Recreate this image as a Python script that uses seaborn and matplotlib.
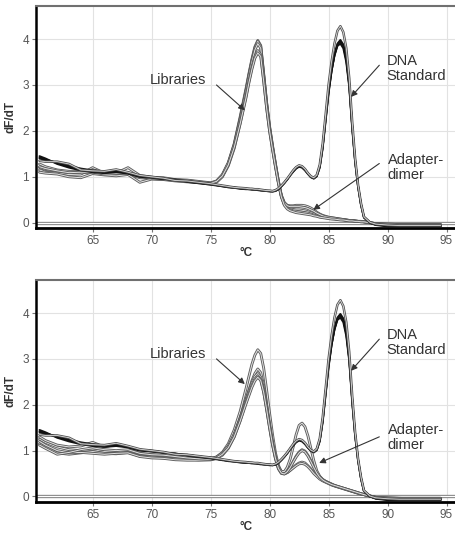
import numpy as np
import pandas as pd
import seaborn as sns
import matplotlib
matplotlib.use('Agg')
import matplotlib.pyplot as plt
import matplotlib.patheffects as pe

# temperature grid (degC), coarse on the baseline, finer across the peaks
temps = [60.5, 61, 62, 63, 64, 65, 66, 67, 68, 69, 70, 71, 72, 73, 74, 75, 75.5, 76, 76.5, 77, 77.5,
         78, 78.25, 78.5, 78.75, 79, 79.25, 79.5, 79.75, 80, 80.25, 80.5, 80.75, 81, 81.25, 81.5, 81.75,
         82, 82.25, 82.5, 82.75, 83, 83.25, 83.5, 83.75, 84, 84.25, 84.5, 84.75, 85, 85.25, 85.5, 85.75,
         86, 86.25, 86.5, 86.75, 87, 87.25, 87.5, 87.75, 88,
         88.5, 89, 90, 91, 92, 93, 94, 94.5]

# DNA standard curves (same standard in both runs)
std_a = [1.42, 1.38, 1.30, 1.22, 1.16, 1.12, 1.10, 1.13, 1.08, 1.02, 0.99, 0.96, 0.93, 0.90, 0.87, 0.84, 0.82, 0.80, 0.78, 0.77, 0.75,
         0.74, 0.74, 0.73, 0.73, 0.72, 0.71, 0.70, 0.70, 0.69, 0.69, 0.70, 0.74, 0.80, 0.87, 0.95, 1.04, 1.12, 1.19, 1.23, 1.21, 1.15,
         1.07, 1.00, 0.97, 1.02, 1.22, 1.65, 2.25, 2.85, 3.30, 3.65, 3.87, 3.95, 3.85, 3.55, 3.00, 2.10, 1.35, 0.80, 0.40, 0.12,
         0.01, -0.04, -0.06, -0.07, -0.07, -0.07, -0.07, -0.07]
std_b = [1.35, 1.33, 1.33, 1.28, 1.15, 1.13, 1.12, 1.16, 1.10, 1.03, 1.00, 0.97, 0.92, 0.91, 0.88, 0.85, 0.83, 0.81, 0.79, 0.77, 0.76,
         0.75, 0.74, 0.74, 0.73, 0.73, 0.72, 0.71, 0.70, 0.70, 0.69, 0.71, 0.75, 0.81, 0.88, 0.96, 1.05, 1.14, 1.21, 1.25, 1.23, 1.17,
         1.08, 1.01, 0.98, 1.04, 1.26, 1.72, 2.35, 3.00, 3.50, 3.90, 4.18, 4.28, 4.15, 3.80, 3.15, 2.20, 1.40, 0.82, 0.42, 0.13,
         0.01, -0.03, -0.05, -0.06, -0.06, -0.06, -0.06, -0.06]
std_c = [1.45, 1.40, 1.28, 1.20, 1.14, 1.10, 1.08, 1.10, 1.07, 1.00, 0.98, 0.95, 0.94, 0.89, 0.86, 0.83, 0.81, 0.80, 0.77, 0.76, 0.74,
         0.73, 0.73, 0.72, 0.72, 0.71, 0.70, 0.70, 0.69, 0.68, 0.68, 0.70, 0.73, 0.79, 0.86, 0.94, 1.03, 1.11, 1.18, 1.22, 1.20, 1.14,
         1.06, 0.99, 0.96, 1.01, 1.20, 1.62, 2.22, 2.82, 3.30, 3.66, 3.90, 3.98, 3.88, 3.58, 3.02, 2.12, 1.36, 0.80, 0.40, 0.12,
         0.00, -0.05, -0.08, -0.08, -0.08, -0.08, -0.08, -0.08]
std_d = [1.40, 1.36, 1.31, 1.24, 1.18, 1.14, 1.11, 1.12, 1.09, 1.01, 1.00, 0.96, 0.92, 0.91, 0.87, 0.85, 0.82, 0.79, 0.78, 0.76, 0.75,
         0.74, 0.73, 0.73, 0.72, 0.72, 0.71, 0.70, 0.69, 0.69, 0.68, 0.69, 0.73, 0.80, 0.87, 0.95, 1.04, 1.13, 1.20, 1.24, 1.22, 1.16,
         1.07, 1.00, 0.97, 1.03, 1.23, 1.66, 2.28, 2.88, 3.32, 3.64, 3.85, 3.90, 3.80, 3.50, 2.96, 2.06, 1.32, 0.78, 0.38, 0.11,
         0.00, -0.04, -0.07, -0.07, -0.07, -0.07, -0.07, -0.07]

# libraries, upper run (little adapter-dimer)
lib_top_1 = [1.20, 1.16, 1.12, 1.10, 1.08, 1.12, 1.07, 1.06, 1.09, 1.01, 0.98, 0.97, 0.93, 0.92, 0.89, 0.86, 0.90, 1.04, 1.30, 1.72, 2.30,
             2.92, 3.25, 3.56, 3.83, 3.97, 3.86, 3.25, 2.62, 2.10, 1.68, 1.28, 0.90, 0.58, 0.40, 0.33, 0.30, 0.29, 0.28, 0.28, 0.27, 0.26,
             0.24, 0.22, 0.20, 0.17, 0.15, 0.13, 0.12, 0.11, 0.10, 0.09, 0.08, 0.07, 0.07, 0.06, 0.05, 0.05, 0.04, 0.03, 0.03, 0.02,
             0.00, -0.02, -0.04, -0.04, -0.05, -0.05, -0.05, -0.05]
lib_top_2 = [1.15, 1.10, 1.08, 1.05, 1.06, 1.20, 1.08, 1.04, 1.06, 0.98, 0.96, 0.95, 0.92, 0.90, 0.88, 0.85, 0.89, 1.02, 1.27, 1.68, 2.26,
             2.88, 3.22, 3.53, 3.80, 3.95, 3.84, 3.22, 2.60, 2.08, 1.66, 1.27, 0.90, 0.60, 0.44, 0.38, 0.37, 0.37, 0.38, 0.38, 0.38, 0.37,
             0.35, 0.32, 0.28, 0.23, 0.19, 0.16, 0.14, 0.12, 0.11, 0.10, 0.09, 0.08, 0.07, 0.06, 0.05, 0.05, 0.04, 0.03, 0.03, 0.02,
             0.00, -0.02, -0.03, -0.04, -0.04, -0.04, -0.04, -0.04]
lib_top_3 = [1.28, 1.22, 1.15, 1.12, 1.12, 1.15, 1.10, 1.08, 1.20, 1.03, 0.99, 0.98, 0.94, 0.93, 0.90, 0.87, 0.91, 1.05, 1.31, 1.70, 2.25,
             2.86, 3.20, 3.50, 3.76, 3.90, 3.80, 3.20, 2.58, 2.06, 1.64, 1.25, 0.88, 0.57, 0.40, 0.32, 0.28, 0.26, 0.25, 0.24, 0.23, 0.22,
             0.21, 0.19, 0.17, 0.15, 0.13, 0.12, 0.11, 0.10, 0.09, 0.08, 0.07, 0.07, 0.06, 0.05, 0.05, 0.04, 0.03, 0.03, 0.02, 0.02,
             0.00, -0.02, -0.04, -0.05, -0.05, -0.05, -0.05, -0.05]
lib_top_4 = [1.10, 1.08, 1.06, 1.00, 0.98, 1.07, 1.04, 1.02, 1.05, 0.88, 0.95, 0.94, 0.91, 0.89, 0.87, 0.84, 0.88, 1.00, 1.24, 1.62, 2.16,
             2.75, 3.08, 3.38, 3.62, 3.75, 3.66, 3.10, 2.50, 2.00, 1.60, 1.22, 0.87, 0.58, 0.43, 0.37, 0.35, 0.35, 0.35, 0.35, 0.34, 0.33,
             0.31, 0.28, 0.25, 0.21, 0.18, 0.15, 0.13, 0.12, 0.11, 0.10, 0.09, 0.08, 0.07, 0.06, 0.05, 0.05, 0.04, 0.03, 0.03, 0.02,
             0.00, -0.02, -0.03, -0.04, -0.04, -0.04, -0.04, -0.04]
lib_top_5 = [1.22, 1.18, 1.13, 1.09, 1.10, 1.10, 1.06, 1.07, 1.08, 1.00, 0.97, 0.96, 0.94, 0.91, 0.88, 0.86, 0.90, 1.02, 1.26, 1.64, 2.15,
             2.72, 3.05, 3.34, 3.58, 3.70, 3.62, 3.08, 2.50, 2.00, 1.60, 1.22, 0.86, 0.56, 0.38, 0.30, 0.26, 0.24, 0.22, 0.21, 0.20, 0.19,
             0.18, 0.17, 0.15, 0.14, 0.12, 0.11, 0.10, 0.09, 0.08, 0.08, 0.07, 0.06, 0.06, 0.05, 0.04, 0.04, 0.03, 0.03, 0.02, 0.02,
             0.00, -0.03, -0.05, -0.05, -0.05, -0.05, -0.05, -0.05]

# libraries, lower run (clear adapter-dimer peak at ~83 degC)
lib_bot_1 = [1.25, 1.18, 1.08, 1.02, 1.00, 1.02, 0.98, 0.97, 1.00, 0.93, 0.90, 0.89, 0.86, 0.85, 0.83, 0.82, 0.86, 0.96, 1.15, 1.45, 1.85,
             2.35, 2.62, 2.88, 3.08, 3.20, 3.12, 2.80, 2.32, 1.82, 1.35, 0.95, 0.68, 0.53, 0.50, 0.52, 0.57, 0.63, 0.69, 0.73, 0.75, 0.73,
             0.67, 0.60, 0.52, 0.45, 0.39, 0.35, 0.32, 0.29, 0.26, 0.23, 0.21, 0.19, 0.17, 0.15, 0.13, 0.11, 0.09, 0.07, 0.05, 0.04,
             0.01, -0.02, -0.04, -0.04, -0.05, -0.05, -0.05, -0.05]
lib_bot_2 = [1.15, 1.08, 0.95, 0.92, 0.95, 0.98, 0.94, 0.93, 0.96, 0.88, 0.86, 0.84, 0.82, 0.81, 0.80, 0.80, 0.83, 0.92, 1.08, 1.34, 1.70,
             2.12, 2.32, 2.52, 2.68, 2.78, 2.70, 2.42, 2.00, 1.58, 1.18, 0.85, 0.62, 0.52, 0.50, 0.55, 0.64, 0.76, 0.88, 0.97, 1.02, 0.99,
             0.90, 0.78, 0.64, 0.52, 0.43, 0.37, 0.33, 0.30, 0.27, 0.24, 0.22, 0.20, 0.18, 0.16, 0.14, 0.12, 0.10, 0.08, 0.06, 0.04,
             0.01, -0.02, -0.03, -0.04, -0.04, -0.04, -0.04, -0.04]
lib_bot_3 = [1.30, 1.22, 1.12, 1.08, 1.10, 1.18, 1.08, 1.14, 1.08, 0.98, 0.95, 0.93, 0.90, 0.87, 0.85, 0.83, 0.86, 0.95, 1.10, 1.36, 1.70,
             2.10, 2.30, 2.48, 2.62, 2.68, 2.60, 2.33, 1.94, 1.54, 1.17, 0.86, 0.64, 0.55, 0.54, 0.64, 0.82, 1.08, 1.35, 1.55, 1.60, 1.52,
             1.32, 1.05, 0.78, 0.56, 0.44, 0.37, 0.33, 0.30, 0.27, 0.24, 0.22, 0.20, 0.18, 0.16, 0.14, 0.12, 0.10, 0.08, 0.06, 0.04,
             0.01, -0.02, -0.04, -0.05, -0.05, -0.05, -0.05, -0.05]
lib_bot_4 = [1.20, 1.12, 1.00, 0.95, 0.96, 0.94, 0.92, 0.94, 0.95, 0.87, 0.84, 0.83, 0.80, 0.79, 0.79, 0.80, 0.83, 0.90, 1.05, 1.30, 1.65,
             2.05, 2.24, 2.42, 2.56, 2.63, 2.55, 2.28, 1.90, 1.50, 1.12, 0.82, 0.60, 0.50, 0.49, 0.52, 0.57, 0.62, 0.67, 0.71, 0.72, 0.70,
             0.65, 0.58, 0.50, 0.44, 0.38, 0.34, 0.31, 0.28, 0.25, 0.23, 0.21, 0.19, 0.17, 0.15, 0.13, 0.11, 0.09, 0.07, 0.05, 0.04,
             0.01, -0.02, -0.03, -0.04, -0.04, -0.04, -0.04, -0.04]
lib_bot_5 = [1.12, 1.05, 0.92, 0.96, 1.02, 1.06, 1.02, 1.00, 1.02, 0.94, 0.91, 0.90, 0.87, 0.84, 0.82, 0.81, 0.84, 0.92, 1.06, 1.30, 1.64,
             2.02, 2.20, 2.38, 2.52, 2.60, 2.53, 2.27, 1.90, 1.50, 1.13, 0.83, 0.61, 0.51, 0.49, 0.54, 0.63, 0.75, 0.86, 0.95, 1.00, 0.97,
             0.88, 0.76, 0.63, 0.51, 0.42, 0.36, 0.32, 0.29, 0.26, 0.24, 0.22, 0.20, 0.18, 0.16, 0.14, 0.12, 0.10, 0.08, 0.06, 0.04,
             0.01, -0.03, -0.05, -0.05, -0.05, -0.05, -0.05, -0.05]

standards = [std_a, std_c, std_d, std_b]
libs_top = [lib_top_1, lib_top_2, lib_top_3, lib_top_4, lib_top_5]
libs_bot = [lib_bot_1, lib_bot_2, lib_bot_3, lib_bot_4, lib_bot_5]

for arr in standards + libs_top + libs_bot:
    assert len(arr) == len(temps)

x_ticks = [65, 70, 75, 80, 85, 90, 95]
y_ticks = [0, 1, 2, 3, 4]

sns.set_style('white')
plt.rcParams['font.family'] = ['Liberation Sans', 'DejaVu Sans']

fig = plt.figure(figsize=(4.56, 5.35), dpi=100)
ax_top = fig.add_axes([0.0789, 0.5738, 0.9211, 0.4150])
ax_bot = fig.add_axes([0.0789, 0.0622, 0.9211, 0.4144])

TXT = '#333333'


def draw_panel(ax, libs, dimer_text_y, dimer_tail, dimer_tip):
    ax.grid(True, color='#e2e2e2', lw=0.8)
    ax.set_axisbelow(True)
    # threshold line at zero (double gray line)
    ax.axhline(0, color='#8a8a8a', lw=2.4, zorder=1)
    ax.axhline(0, color='white', lw=0.8, zorder=1)

    for vals in libs:
        sns.lineplot(x=temps, y=vals, ax=ax, estimator=None, color='#e4e4e4', lw=0.7, zorder=2,
                     path_effects=[pe.Stroke(linewidth=2.0, foreground='#5c5c5c'), pe.Normal()])
    for i, vals in enumerate(standards):
        if i == len(standards) - 1:
            sns.lineplot(x=temps, y=vals, ax=ax, estimator=None, color='#dddddd', lw=0.6, zorder=3,
                         path_effects=[pe.Stroke(linewidth=1.8, foreground='#505050'), pe.Normal()])
        else:
            sns.lineplot(x=temps, y=vals, ax=ax, estimator=None, color='#121212', lw=1.4, zorder=3)

    ax.set_xlim(60.2, 95.8)
    ax.set_ylim(-0.115, 4.72)
    ax.set_xticks(x_ticks)
    ax.set_yticks(y_ticks)
    ax.tick_params(axis='both', labelsize=8.5, labelcolor='#555555', color='#777777',
                   length=3, width=0.8, pad=2, left=True, bottom=True)
    ax.set_xlabel('°C', fontsize=8.5, fontweight='bold', color=TXT, labelpad=0)
    ax.set_ylabel('dF/dT', fontsize=8.5, fontweight='bold', color=TXT, labelpad=4)

    ax.spines['left'].set_color('black')
    ax.spines['left'].set_linewidth(1.8)
    ax.spines['bottom'].set_color('black')
    ax.spines['bottom'].set_linewidth(2.0)
    ax.spines['top'].set_color('#707070')
    ax.spines['top'].set_linewidth(1.5)
    ax.spines['right'].set_visible(False)

    arrow = dict(arrowstyle='-|>', color=TXT, lw=0.8, mutation_scale=9, shrinkA=0, shrinkB=0)
    ax.text(72.2, 3.11, 'Libraries', fontsize=10.5, color=TXT, ha='center', va='center')
    ax.annotate('', xy=(77.9, 2.45), xytext=(75.5, 3.0), arrowprops=arrow)
    ax.text(89.9, 3.36, 'DNA\nStandard', fontsize=10.5, color=TXT, ha='left', va='center', linespacing=1.05)
    ax.annotate('', xy=(86.9, 2.74), xytext=(89.3, 3.43), arrowprops=arrow)
    ax.text(90.0, dimer_text_y, 'Adapter-\ndimer', fontsize=10.5, color=TXT, ha='left', va='center', linespacing=1.05)
    ax.annotate('', xy=dimer_tip, xytext=dimer_tail, arrowprops=arrow)


draw_panel(ax_top, libs_top, 1.20, (89.3, 1.29), (83.7, 0.28))
draw_panel(ax_bot, libs_bot, 1.29, (89.3, 1.30), (84.2, 0.73))

fig.savefig('out.png', dpi=100)
